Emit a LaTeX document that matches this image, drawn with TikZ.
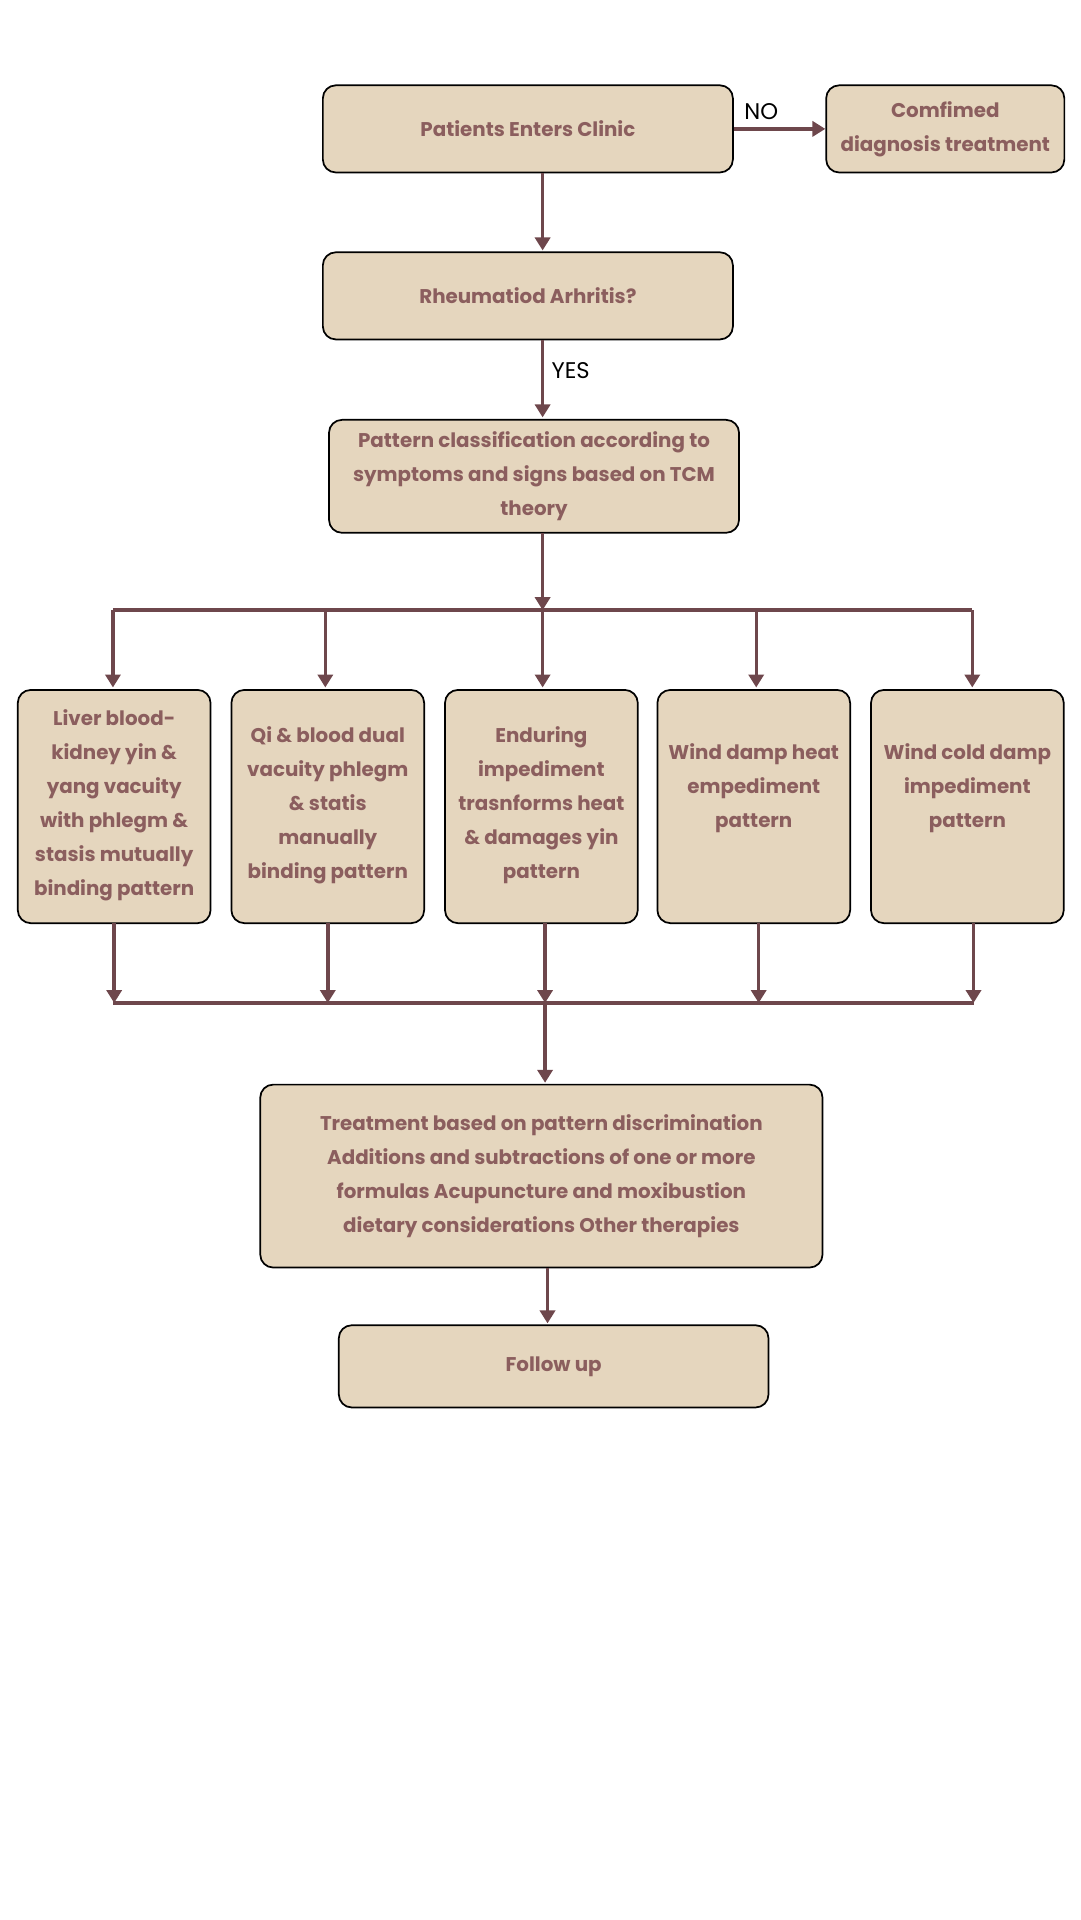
\documentclass[tikz,border=0pt]{standalone}
\usepackage{fontspec}
\setmainfont{Poppins}
\usetikzlibrary{arrows.meta}
\definecolor{boxfill}{HTML}{E5D6BE}
\definecolor{boxtext}{HTML}{8B5E5E}
\definecolor{flow}{HTML}{6E474C}
\begin{document}
\begin{tikzpicture}[x=0.02cm,y=-0.02cm,
  box/.style={rectangle,rounded corners=6pt,draw=black,thick,fill=boxfill,inner sep=0pt},
  words/.style={text=boxtext,font=\bfseries\fontsize{9.2}{15.8}\selectfont,align=center,inner sep=0pt},
  flow/.style={draw=flow,line width=1.6pt,-{Triangle[length=6pt,width=7pt]}},
  bar/.style={draw=flow,line width=1.6pt},
  tag/.style={font=\fontsize{10.5}{13}\selectfont,text=black}]
\useasboundingbox (0,0) rectangle (880,1564);
% top of the chart
\node[box,minimum width=334*0.02cm,minimum height=71*0.02cm] (enter) at (430,105) {};
\node[words] (enterT) at (enter) {Patients Enters Clinic};
\node[box,minimum width=194*0.02cm,minimum height=71*0.02cm] (confirm) at (770,105) {};
\node[words] (confirmT) at (confirm) {Comfimed\\diagnosis treatment};
\node[box,minimum width=334*0.02cm,minimum height=71*0.02cm] (ra) at (430,241) {};
\node[words] (raT) at (ra) {Rheumatiod Arhritis?};
\node[box,minimum width=334*0.02cm,minimum height=92*0.02cm] (classify) at (435,388) {};
\node[words] (classifyT) at (classify) {Pattern classification according to\\symptoms and signs based on TCM\\theory};
% patterns
\begin{scope}[every node/.style={box,minimum width=157*0.02cm,minimum height=190*0.02cm}]
\node (p1) at (93,657) {};
\node (p2) at (267,657) {};
\node (p3) at (441,657) {};
\node (p4) at (614,657) {};
\node (p5) at (788,657) {};
\end{scope}
\node[words] (p1T) at (93,656) {Liver blood-\\kidney yin \&\\yang vacuity\\with phlegm \&\\stasis mutually\\binding pattern};
\node[words] (p2T) at (267,656) {Qi \& blood dual\\vacuity phlegm\\\& statis\\manually\\binding pattern};
\node[words] (p3T) at (441,656) {Enduring\\impediment\\trasnforms heat\\\& damages yin\\pattern};
\node[words] (p4T) at (614,642) {Wind damp heat\\empediment\\pattern};
\node[words] (p5T) at (788,642) {Wind cold damp\\impediment\\pattern};
\node[box,minimum width=458*0.02cm,minimum height=149*0.02cm] (treat) at (441,958) {};
\node[words] (treatT) at (treat) {Treatment based on pattern discrimination\\Additions and subtractions of one or more\\formulas Acupuncture and moxibustion\\dietary considerations Other therapies};
\node[box,minimum width=350*0.02cm,minimum height=67*0.02cm] (follow) at (451,1113) {};
\node[words] (followT) at (follow) {Follow up};
% junctions
\coordinate (t0) at (442,497); \coordinate (tl) at (92,497); \coordinate (tr) at (792,497);
\coordinate (b0) at (444,817); \coordinate (bl) at (92,817); \coordinate (br) at (793,817);
% connectors
\draw[flow] (enter.east) -- node[tag,above,pos=0.3]{NO} (confirm.west);
\draw[flow] (442,141) -- (442,204);
\draw[flow] (442,277) -- node[tag,right,pos=0.4]{YES} (442,340);
\draw[flow] (442,434) -- (t0);
\draw[bar] (tl) -- (tr);
\foreach \x in {92,265,442,616,792}
  \draw[flow] (\x,497) -- (\x,560);
\foreach \x in {93,267,444,618,793}
  \draw[flow] (\x,752) -- (\x,817);
\draw[bar] (bl) -- (br);
\draw[flow] (b0) -- (444,882);
\draw[flow] (446,1033) -- (446,1078);
\end{tikzpicture}
\end{document}
